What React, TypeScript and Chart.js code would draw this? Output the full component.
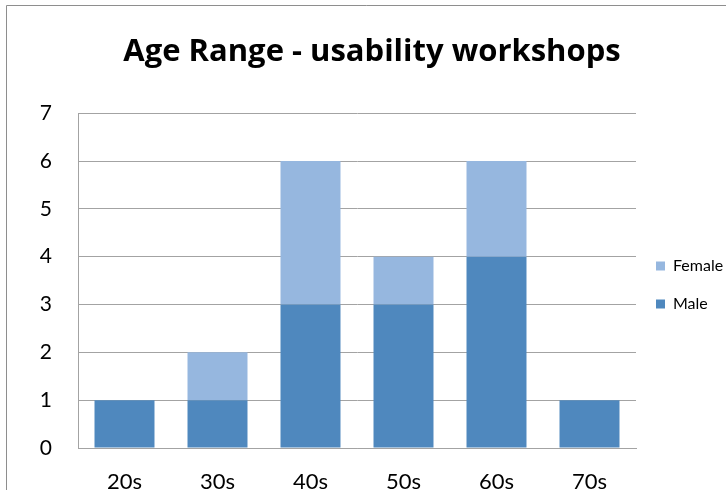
import React, { useEffect, useRef } from "react";
import { Chart, registerables } from "chart.js";

Chart.register(...registerables);

const categories = ["20s", "30s", "40s", "50s", "60s", "70s"];
const maleValues = [1, 1, 3, 3, 4, 1];
const femaleValues = [0, 1, 3, 1, 2, 0];
const yTicks = [0, 1, 2, 3, 4, 5, 6, 7];
const titleText = "Age Range - usability workshops";

const FONT = "Lato, 'Noto Sans', sans-serif";
const TITLE_FONT = "'Open Sans', Lato, sans-serif";
const GRID = "#A3A3A3";

const borderPlugin = {
  id: "outerBorder",
  beforeDraw(chart: any) {
    const ctx = chart.ctx;
    ctx.save();
    ctx.fillStyle = "#ffffff";
    ctx.fillRect(0, 0, chart.width, chart.height);
    ctx.strokeStyle = "#8E8E8E";
    ctx.lineWidth = 1;
    ctx.beginPath();
    ctx.moveTo(6.5, chart.height);
    ctx.lineTo(6.5, 5.5);
    ctx.lineTo(chart.width, 5.5);
    ctx.stroke();
    ctx.restore();
  },
};

// Keep the legend narrow (its text may run to the canvas edge) and place it
// beside the plot like the original.
const legendPlacement = {
  id: "legendPlacement",
  afterInit(chart: any) {
    const legend = chart.legend;
    if (!legend) return;
    const origFit = legend.fit.bind(legend);
    legend.fit = function () {
      origFit();
      if (!this.isHorizontal()) this.width = 90;
    };
  },
  afterLayout(chart: any) {
    const legend = chart.legend;
    if (!legend) return;
    legend.left -= 2;
    legend.right -= 2;
    legend.top += 40;
    legend.bottom += 40;
  },
};

export default function App() {
  const ref = useRef<HTMLCanvasElement | null>(null);
  useEffect(() => {
    if (!ref.current) return;
    const chart = new Chart(ref.current, {
      type: "bar",
      data: {
        labels: categories,
        datasets: [
          {
            label: "Male",
            data: maleValues,
            backgroundColor: "#4F88BE",
            barPercentage: 0.645,
            categoryPercentage: 1,
          },
          {
            label: "Female",
            data: femaleValues,
            backgroundColor: "#96B7DF",
            barPercentage: 0.645,
            categoryPercentage: 1,
          },
        ],
      },
      options: {
        animation: false,
        responsive: false,
        layout: { padding: { left: 18, top: 0, right: 0, bottom: 0 } },
        plugins: {
          title: {
            display: true,
            text: titleText,
            color: "#000000",
            font: { family: TITLE_FONT, size: 31, weight: "bold", lineHeight: 1.2 },
            padding: { top: 34, bottom: 42 },
          },
          legend: {
            position: "right",
            reverse: true,
            labels: {
              boxWidth: 9,
              boxHeight: 9,
              color: "#000000",
              padding: 22,
              font: { family: FONT, size: 16 },
            },
          },
          tooltip: { enabled: false },
        },
        scales: {
          x: {
            stacked: true,
            grid: { display: false, drawTicks: false },
            border: { display: true, color: GRID },
            ticks: {
              color: "#000000",
              padding: 21,
              font: { family: FONT, size: 22 },
            },
            afterFit(scale: any) {
              scale.height = 42;
            },
          },
          y: {
            stacked: true,
            min: 0,
            max: 7,
            grid: { color: GRID, drawTicks: false },
            border: { display: true, color: GRID },
            ticks: {
              stepSize: 1,
              color: "#000000",
              padding: 26,
              font: { family: FONT, size: 21 },
              callback: (v: any) => (yTicks.includes(Number(v)) ? String(v) : ""),
            },
            afterFit(scale: any) {
              scale.width = 60;
            },
          },
        },
      },
      plugins: [borderPlugin, legendPlacement],
    } as any);
    return () => chart.destroy();
  }, []);
  return (
    <div style={{ position: "fixed", left: 0, top: 0, width: 726, height: 490 }}>
      <canvas ref={ref} width={726} height={490} style={{ width: 726, height: 490 }} />
    </div>
  );
}
